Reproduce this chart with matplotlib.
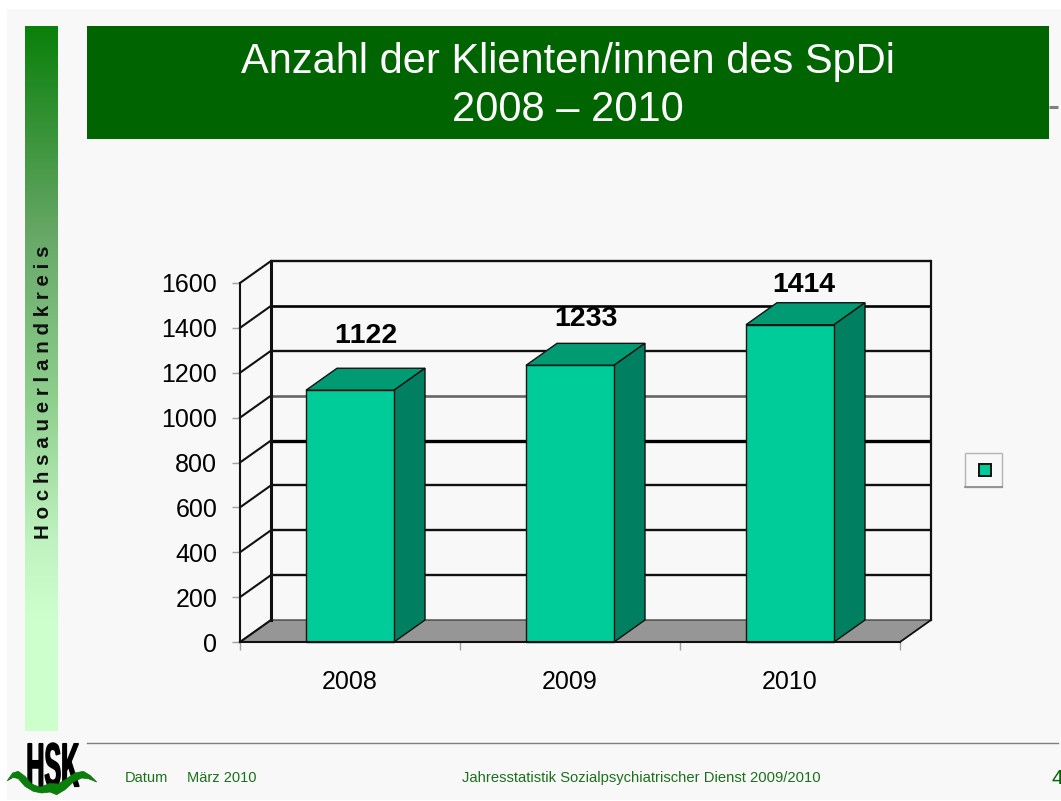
import numpy as np
import matplotlib
matplotlib.use('Agg')
import matplotlib.pyplot as plt
from matplotlib.colors import LinearSegmentedColormap
from matplotlib.patches import Polygon, Rectangle, PathPatch
from matplotlib.textpath import TextPath
from matplotlib.font_manager import FontProperties
from matplotlib.transforms import Affine2D

# data
years = ['2008', '2009', '2010']
clients = [1122, 1233, 1414]
y_ticks = [0, 200, 400, 600, 800, 1000, 1200, 1400, 1600]
grid_widths = [1.7, 1.7, 1.7, 1.7, 2.4, 1.9, 1.7, 1.9, 1.7]
grid_colors = ['#555555', '#111111', '#111111', '#111111', '#000000', '#666666', '#111111', '#000000', '#111111']

title_lines = ['Anzahl der Klienten/innen des SpDi', '2008 – 2010']
side_text = 'H o c h s a u e r l a n d k r e i s'
footer_date = 'Datum'
footer_month = 'März 2010'
footer_mid = 'Jahresstatistik Sozialpsychiatrischer Dienst 2009/2010'
page_no = '4'

plt.rcParams['font.family'] = ['Liberation Sans', 'DejaVu Sans']
plt.rcParams['text.kerning_factor'] = 6

W, H = 1061, 801
fig = plt.figure(figsize=(W / 100, H / 100), dpi=100, facecolor='white')

# slide background in pixel coordinates
bg = fig.add_axes([0, 0, 1, 1], zorder=0)
bg.set_xlim(0, W)
bg.set_ylim(H, 0)
bg.axis('off')
bg.add_patch(Rectangle((7, 9), W - 7, 791, fc='#f8f8f8', ec='none'))

# sidebar gradient
side_cmap = LinearSegmentedColormap.from_list('side', [
    (0.0, '#0a800a'), (0.30, '#68a868'), (0.53, '#8ecf8e'),
    (0.73, '#bff2bf'), (0.84, '#ccffcc'), (1.0, '#ccffcc')])
grad = np.linspace(0, 1, 256).reshape(-1, 1)
bg.imshow(grad, cmap=side_cmap, extent=(25, 58, 731, 26), aspect='auto', zorder=1)
bg.set_xlim(0, W)
bg.set_ylim(H, 0)
bg.text(43.5, 392, side_text, rotation=90, ha='center', va='center', fontsize=14.8,
        fontweight='bold', color='#111111', zorder=3)

# title band
bg.add_patch(Rectangle((87, 26), 962, 113, fc='#006400', ec='none', zorder=2))
bg.plot([1049, 1058], [107, 107], color='#808080', lw=2.2, solid_capstyle='butt', zorder=2)
bg.text(568, 62, title_lines[0], ha='center', va='center', fontsize=30, color='white', zorder=3)
bg.text(568, 110, title_lines[1], ha='center', va='center', fontsize=30, color='white', zorder=3)

# footer
bg.plot([87, 1058], [743, 743], color='#808080', lw=1.0, zorder=2)
bg.text(125, 778, footer_date, ha='left', va='center', fontsize=10.5, color='#1a701a')
bg.text(187, 778, footer_month, ha='left', va='center', fontsize=10.5, color='#1a701a')
bg.text(641, 778, footer_mid, ha='center', va='center', fontsize=10.6, color='#1a701a')
bg.text(1052, 779, page_no, ha='left', va='center', fontsize=15, color='#006400')

# logo
tp = TextPath((0, 0), 'HSK', size=10, prop=FontProperties(family='Liberation Sans', weight='bold'))
ext = tp.get_extents()
logo_tf = (Affine2D().translate(-ext.x0, -ext.y0)
           .scale(51 / ext.width, -44 / ext.height).translate(28, 787))
bg.add_patch(PathPatch(tp.transformed(logo_tf), fc='black', ec='black', lw=1.0, zorder=3))
wave_pts = np.array([(22, 128), (38, 105), (55, 100), (75, 115), (95, 138), (120, 148), (150, 136),
                     (175, 138), (200, 122), (225, 105), (250, 100), (270, 112), (290, 132),
                     (265, 122), (245, 120), (220, 132), (195, 155), (170, 170), (150, 162),
                     (125, 165), (100, 160), (75, 145), (55, 122), (40, 118)]) / 3 + [0, 738]
bg.add_patch(Polygon(wave_pts, closed=True, fc='#0a800a', ec='#0a6a0a', lw=0.5, joinstyle='round', zorder=4))

# legend box
bg.add_patch(Rectangle((965, 453), 37, 34, fc='#f8f8f8', ec='#b4b4b4', lw=1.0, zorder=2))
bg.plot([965, 1002], [487, 487], color='#909090', lw=1.3, zorder=2)
bg.plot([984.5], [470], marker='s', ms=9.0, mfc='#00cc99', mec='#111111', mew=1.4, zorder=3)

# chart, front plane of the pseudo 3d box
ax = fig.add_axes([240 / W, 1 - 642 / H, 660 / W, 359 / H], zorder=1)
ax.patch.set_visible(False)
ax.set_xlim(0, 3)
ax.set_ylim(0, 1600)
depth_x = 31 / 220
depth_y = 22 / (359 / 1600)
x_pos = np.arange(len(years)) + 0.5
bar_w = 0.4
label_dx = [16, 16, 14]
label_dy = [54, 46, 40]

for s in ['top', 'right']:
    ax.spines[s].set_visible(False)
for s in ['left', 'bottom']:
    ax.spines[s].set_linewidth(1.5)
    ax.spines[s].set_color('#111111')
ax.spines['left'].set_zorder(2)
ax.spines['bottom'].set_zorder(6)

ax.set_yticks(y_ticks)
ax.set_yticklabels([str(v) for v in y_ticks])
ax.tick_params(axis='y', length=5.8, width=1.0, color='#a0a0a0', pad=10.5, labelsize=18)
ax.set_xticks([0, 1, 2, 3])
ax.set_xticklabels([])
ax.set_xticks(x_pos, minor=True)
ax.set_xticklabels(years, minor=True)
ax.tick_params(axis='x', which='major', length=5.8, width=1.0, color='#a0a0a0')
ax.tick_params(axis='x', which='minor', length=0, pad=20, labelsize=18)

# floor
ax.add_patch(Polygon([(0, 0), (3, 0), (3 + depth_x, depth_y), (depth_x, depth_y)],
                     closed=True, fc='#969696', ec='#444444', lw=1.0, clip_on=False, zorder=1))

# back wall and slanted grid lines
for v, lw, c in zip(y_ticks, grid_widths, grid_colors):
    if v > 0:
        ax.plot([depth_x, 3 + depth_x], [v + depth_y, v + depth_y], color=c, lw=lw,
                solid_capstyle='butt', clip_on=False, zorder=1.5)
    ax.plot([0, depth_x], [v, v + depth_y], color='#111111', lw=1.5,
            clip_on=False, zorder=1.5)
top = y_ticks[-1] + depth_y
ax.plot([depth_x, depth_x], [depth_y, top], color='#111111', lw=2.2, clip_on=False, zorder=1.6)
ax.plot([3 + depth_x, 3 + depth_x], [depth_y, top], color='#111111', lw=1.6, clip_on=False, zorder=1.6)
ax.plot([3, 3 + depth_x], [0, depth_y], color='#111111', lw=1.2, clip_on=False, zorder=1.6)

# bars
for xc, v in zip(x_pos, clients):
    x0, x1 = xc - bar_w / 2, xc + bar_w / 2
    ax.add_patch(Polygon([(x0, v), (x1, v), (x1 + depth_x, v + depth_y), (x0 + depth_x, v + depth_y)],
                         closed=True, fc='#009a73', ec='#111111', lw=1.0, clip_on=False, zorder=3))
    ax.add_patch(Polygon([(x1, 0), (x1 + depth_x, depth_y), (x1 + depth_x, v + depth_y), (x1, v)],
                         closed=True, fc='#008060', ec='#111111', lw=1.0, clip_on=False, zorder=3))
ax.bar(x_pos, clients, width=bar_w, color='#00cc99', edgecolor='#111111', linewidth=1.0,
       zorder=4, clip_on=False)

# data labels
for xc, v, dx, dy in zip(x_pos, clients, label_dx, label_dy):
    ax.annotate(str(v), (xc, v), xytext=(dx, dy), textcoords='offset pixels', ha='center',
                va='center', fontsize=20.5, fontweight='bold', color='black', zorder=7)

fig.savefig('out.png', dpi=100, facecolor='white')
